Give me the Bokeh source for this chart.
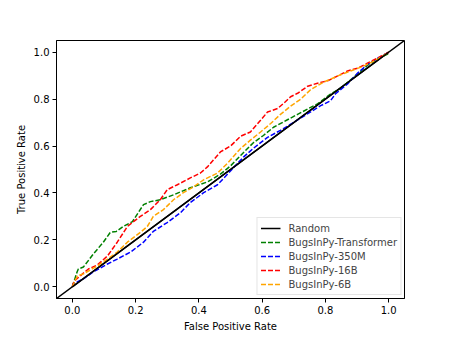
from bokeh.plotting import figure
from bokeh.models import Range1d, FixedTicker, PrintfTickFormatter, Slope, Legend, LegendItem
from bokeh.embed import file_html
from bokeh.resources import INLINE

# ROC data
transformer_fpr = [0.0, 0.015, 0.019, 0.035, 0.066, 0.098, 0.12, 0.139, 0.161, 0.19, 0.225, 0.247, 0.278, 0.32,
                   0.373, 0.427, 0.468, 0.5, 0.532, 0.573, 0.604, 0.636, 0.68, 0.712, 0.744, 0.775, 0.816,
                   0.848, 0.873, 0.902, 0.934, 0.965, 0.997, 1.0]
transformer_tpr = [0.0, 0.063, 0.076, 0.084, 0.139, 0.19, 0.232, 0.236, 0.257, 0.278, 0.35, 0.363, 0.371, 0.392,
                   0.422, 0.447, 0.48, 0.515, 0.56, 0.615, 0.645, 0.68, 0.712, 0.735, 0.758, 0.78, 0.822,
                   0.845, 0.875, 0.908, 0.945, 0.972, 0.992, 1.0]

m350_fpr = [0.0, 0.003, 0.035, 0.066, 0.111, 0.142, 0.184, 0.225, 0.256, 0.3, 0.342, 0.373, 0.415, 0.459,
            0.494, 0.541, 0.573, 0.617, 0.658, 0.699, 0.744, 0.785, 0.816, 0.832, 0.87, 0.902, 0.934, 0.965, 1.0]
m350_tpr = [0.0, 0.013, 0.034, 0.063, 0.097, 0.118, 0.148, 0.19, 0.236, 0.274, 0.316, 0.359, 0.401, 0.435,
            0.485, 0.553, 0.591, 0.637, 0.667, 0.7, 0.738, 0.772, 0.793, 0.823, 0.865, 0.911, 0.949, 0.975, 1.0]

b16_fpr = [0.0, 0.006, 0.025, 0.051, 0.079, 0.111, 0.142, 0.174, 0.215, 0.247, 0.278, 0.3, 0.332, 0.373,
           0.405, 0.427, 0.446, 0.468, 0.5, 0.532, 0.563, 0.595, 0.617, 0.649, 0.668, 0.69, 0.712, 0.744,
           0.775, 0.807, 0.839, 0.87, 0.902, 0.934, 0.965, 1.0]
b16_tpr = [0.0, 0.025, 0.046, 0.076, 0.093, 0.131, 0.19, 0.257, 0.3, 0.329, 0.371, 0.414, 0.435, 0.464,
           0.485, 0.511, 0.54, 0.575, 0.6, 0.642, 0.66, 0.71, 0.745, 0.76, 0.782, 0.81, 0.825, 0.855,
           0.868, 0.878, 0.899, 0.92, 0.932, 0.954, 0.975, 1.0]

b6_fpr = [0.0, 0.016, 0.035, 0.079, 0.111, 0.142, 0.174, 0.215, 0.237, 0.256, 0.288, 0.32, 0.351, 0.383,
          0.415, 0.459, 0.491, 0.532, 0.563, 0.595, 0.627, 0.658, 0.69, 0.722, 0.753, 0.794, 0.839, 0.88,
          0.921, 0.965, 1.0]
b6_tpr = [0.0, 0.046, 0.055, 0.089, 0.118, 0.148, 0.19, 0.232, 0.257, 0.3, 0.329, 0.371, 0.401, 0.426,
          0.456, 0.485, 0.527, 0.59, 0.625, 0.66, 0.696, 0.735, 0.77, 0.8, 0.84, 0.872, 0.899, 0.92,
          0.941, 0.97, 1.0]

random_fpr = [0.0, 1.0]
random_tpr = [0.0, 1.0]

ticks = [0.0, 0.2, 0.4, 0.6, 0.8, 1.0]
FONT = "DejaVu Sans"

p = figure(width=449, height=337, output_backend="svg", toolbar_location=None,
           x_range=Range1d(-0.05, 1.05), y_range=Range1d(-0.05, 1.05),
           min_border_left=56, min_border_top=40, min_border_right=45, min_border_bottom=39)
p.grid.visible = False
p.outline_line_color = "black"
p.outline_line_width = 1
p.background_fill_color = "white"
p.border_fill_color = "white"

for ax in (p.xaxis, p.yaxis):
    ax.ticker = FixedTicker(ticks=ticks)
    ax.formatter = PrintfTickFormatter(format="%.1f")
    ax.major_label_text_font = FONT
    ax.major_label_text_font_size = "10px"
    ax.major_label_text_color = "black"
    ax.axis_label_text_font = FONT
    ax.axis_label_text_font_size = "10px"
    ax.axis_label_text_font_style = "normal"
    ax.axis_label_text_color = "black"
    ax.major_tick_in = 0
    ax.major_tick_out = 4
    ax.minor_tick_line_color = None
    ax.axis_line_color = "black"
    ax.major_label_standoff = 3
    ax.axis_label_standoff = 4

p.xaxis.axis_label = "False Positive Rate"
p.yaxis.axis_label = "True Positive Rate"

lw = 1.5
r_rand = p.line(random_fpr, random_tpr, line_color="black", line_width=lw)
p.add_layout(Slope(gradient=1, y_intercept=0, line_color="black", line_width=lw))
r_tr = p.line(transformer_fpr, transformer_tpr, line_color="green", line_width=lw, line_dash="5 2")
r_350 = p.line(m350_fpr, m350_tpr, line_color="blue", line_width=lw, line_dash="5 2")
r_16 = p.line(b16_fpr, b16_tpr, line_color="red", line_width=lw, line_dash="5 2")
r_6 = p.line(b6_fpr, b6_tpr, line_color="orange", line_width=lw, line_dash="5 2")

legend = Legend(items=[
    LegendItem(label="Random", renderers=[r_rand]),
    LegendItem(label="BugsInPy-Transformer", renderers=[r_tr]),
    LegendItem(label="BugsInPy-350M", renderers=[r_350]),
    LegendItem(label="BugsInPy-16B", renderers=[r_16]),
    LegendItem(label="BugsInPy-6B", renderers=[r_6]),
], location="bottom_right")
legend.label_text_font = FONT
legend.label_text_font_size = "10px"
legend.label_height = 14
legend.glyph_height = 14
legend.glyph_width = 20
legend.spacing = 0
legend.padding = 3
legend.margin = 3
legend.label_standoff = 8
legend.border_line_color = "#cccccc"
legend.border_line_width = 1
legend.background_fill_alpha = 0.8
p.add_layout(legend)

open("out.html", "w").write(file_html(p, INLINE))
